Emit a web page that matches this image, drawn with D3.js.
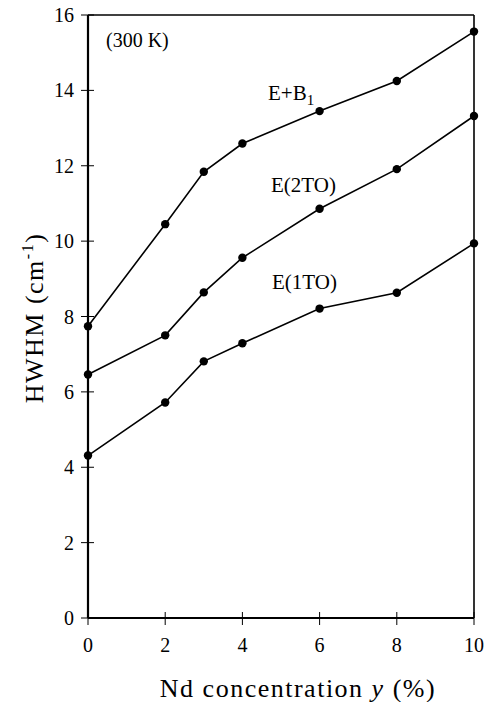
<!DOCTYPE html>
<html>
<head>
<meta charset="utf-8">
<script src="https://cdn.jsdelivr.net/npm/d3@7"></script>
<style>
  body { margin: 0; background: #fff; }
  text { font-family: "Liberation Serif", "DejaVu Serif", serif; }
</style>
</head>
<body>
<svg id="chart" width="491" height="702"></svg>
<script>
// Nd concentration (%)
const conc = [0, 2, 3, 4, 6, 8, 10];
const eB1 = [7.74, 10.45, 11.84, 12.59, 13.45, 14.25, 15.56];
const e2TO = [6.46, 7.50, 8.64, 9.56, 10.86, 11.91, 13.32];
const e1TO = [4.31, 5.72, 6.81, 7.29, 8.21, 8.63, 9.94];
const xTicks = [0, 2, 4, 6, 8, 10];
const yTicks = [0, 2, 4, 6, 8, 10, 12, 14, 16];

const series = [eB1, e2TO, e1TO];

const svg = d3.select("#chart"),
  margin = { top: 15, right: 17, bottom: 84, left: 88 },
  width = 491 - margin.left - margin.right,
  height = 702 - margin.top - margin.bottom;

const x = d3.scaleLinear().domain([0, 10]).range([0, width]);
const y = d3.scaleLinear().domain([0, 16]).range([height, 0]);

const g = svg.append("g")
  .attr("transform", "translate(" + margin.left + "," + margin.top + ")");

// frame top/right
g.append("line").attr("x1", 0).attr("x2", width).attr("y1", 0).attr("y2", 0)
  .attr("stroke", "#000").attr("stroke-width", 1.6);
g.append("line").attr("x1", width).attr("x2", width).attr("y1", 0).attr("y2", height)
  .attr("stroke", "#000").attr("stroke-width", 1.6);

// x axis: ticks cross the line
const xa = g.append("g").attr("transform", "translate(0," + height + ")");
xa.append("line").attr("x1", 0).attr("x2", width).attr("stroke", "#000").attr("stroke-width", 2.2);
xa.selectAll(".tk").data(xTicks).join("line")
  .attr("x1", d => x(d)).attr("x2", d => x(d))
  .attr("y1", -6).attr("y2", 7)
  .attr("stroke", "#000").attr("stroke-width", 1);
xa.selectAll(".lb").data(xTicks).join("text")
  .attr("x", d => x(d)).attr("y", 34)
  .attr("text-anchor", "middle")
  .style("font-size", "20px")
  .text(d => d);

// y axis
const ya = g.append("g");
ya.append("line").attr("y1", 0).attr("y2", height).attr("stroke", "#000").attr("stroke-width", 2.2);
ya.selectAll(".tk").data(yTicks).join("line")
  .attr("y1", d => y(d)).attr("y2", d => y(d))
  .attr("x1", -7).attr("x2", 6)
  .attr("stroke", "#000").attr("stroke-width", 1);
ya.selectAll(".lb").data(yTicks).join("text")
  .attr("x", -14).attr("y", d => y(d))
  .attr("dy", "0.35em")
  .attr("text-anchor", "end")
  .style("font-size", "20px")
  .text(d => d);

// series
const line = d3.line().x((d, i) => x(conc[i])).y(d => y(d));
series.forEach(s => {
  g.append("path")
    .datum(s)
    .attr("fill", "none")
    .attr("stroke", "#000")
    .attr("stroke-width", 1.6)
    .attr("d", line);
  g.selectAll(null).data(s).join("circle")
    .attr("cx", (d, i) => x(conc[i]))
    .attr("cy", d => y(d))
    .attr("r", 4.2)
    .attr("fill", "#000");
});

// series labels
const lab = svg.append("g").style("font-size", "21px");
lab.append("text").attr("x", 268).attr("y", 100)
  .text("E+B").append("tspan").attr("dy", 5).style("font-size", "15px").text("1");
lab.append("text").attr("x", 271).attr("y", 192).text("E(2TO)");
lab.append("text").attr("x", 272).attr("y", 289).text("E(1TO)");
lab.append("text").attr("x", 106).attr("y", 47).style("font-size", "20px").text("(300 K)");

// axis titles
const xt = svg.append("text")
  .attr("x", (153 + 443) / 2).attr("y", 697)
  .attr("text-anchor", "middle")
  .style("font-size", "26px")
  .style("letter-spacing", "1.5px");
xt.append("tspan").text("Nd concentration ");
xt.append("tspan").style("font-style", "italic").text("y");
xt.append("tspan").text("  (%)");

const yt = svg.append("text")
  .attr("transform", "translate(43,318) rotate(-90)")
  .attr("text-anchor", "middle")
  .style("font-size", "26px")
  .style("letter-spacing", "1.5px");
yt.append("tspan").text("HWHM (cm");
yt.append("tspan").attr("dy", -10).style("font-size", "16px").text("-1");
yt.append("tspan").attr("dy", 10).text(")");
</script>
</body>
</html>
